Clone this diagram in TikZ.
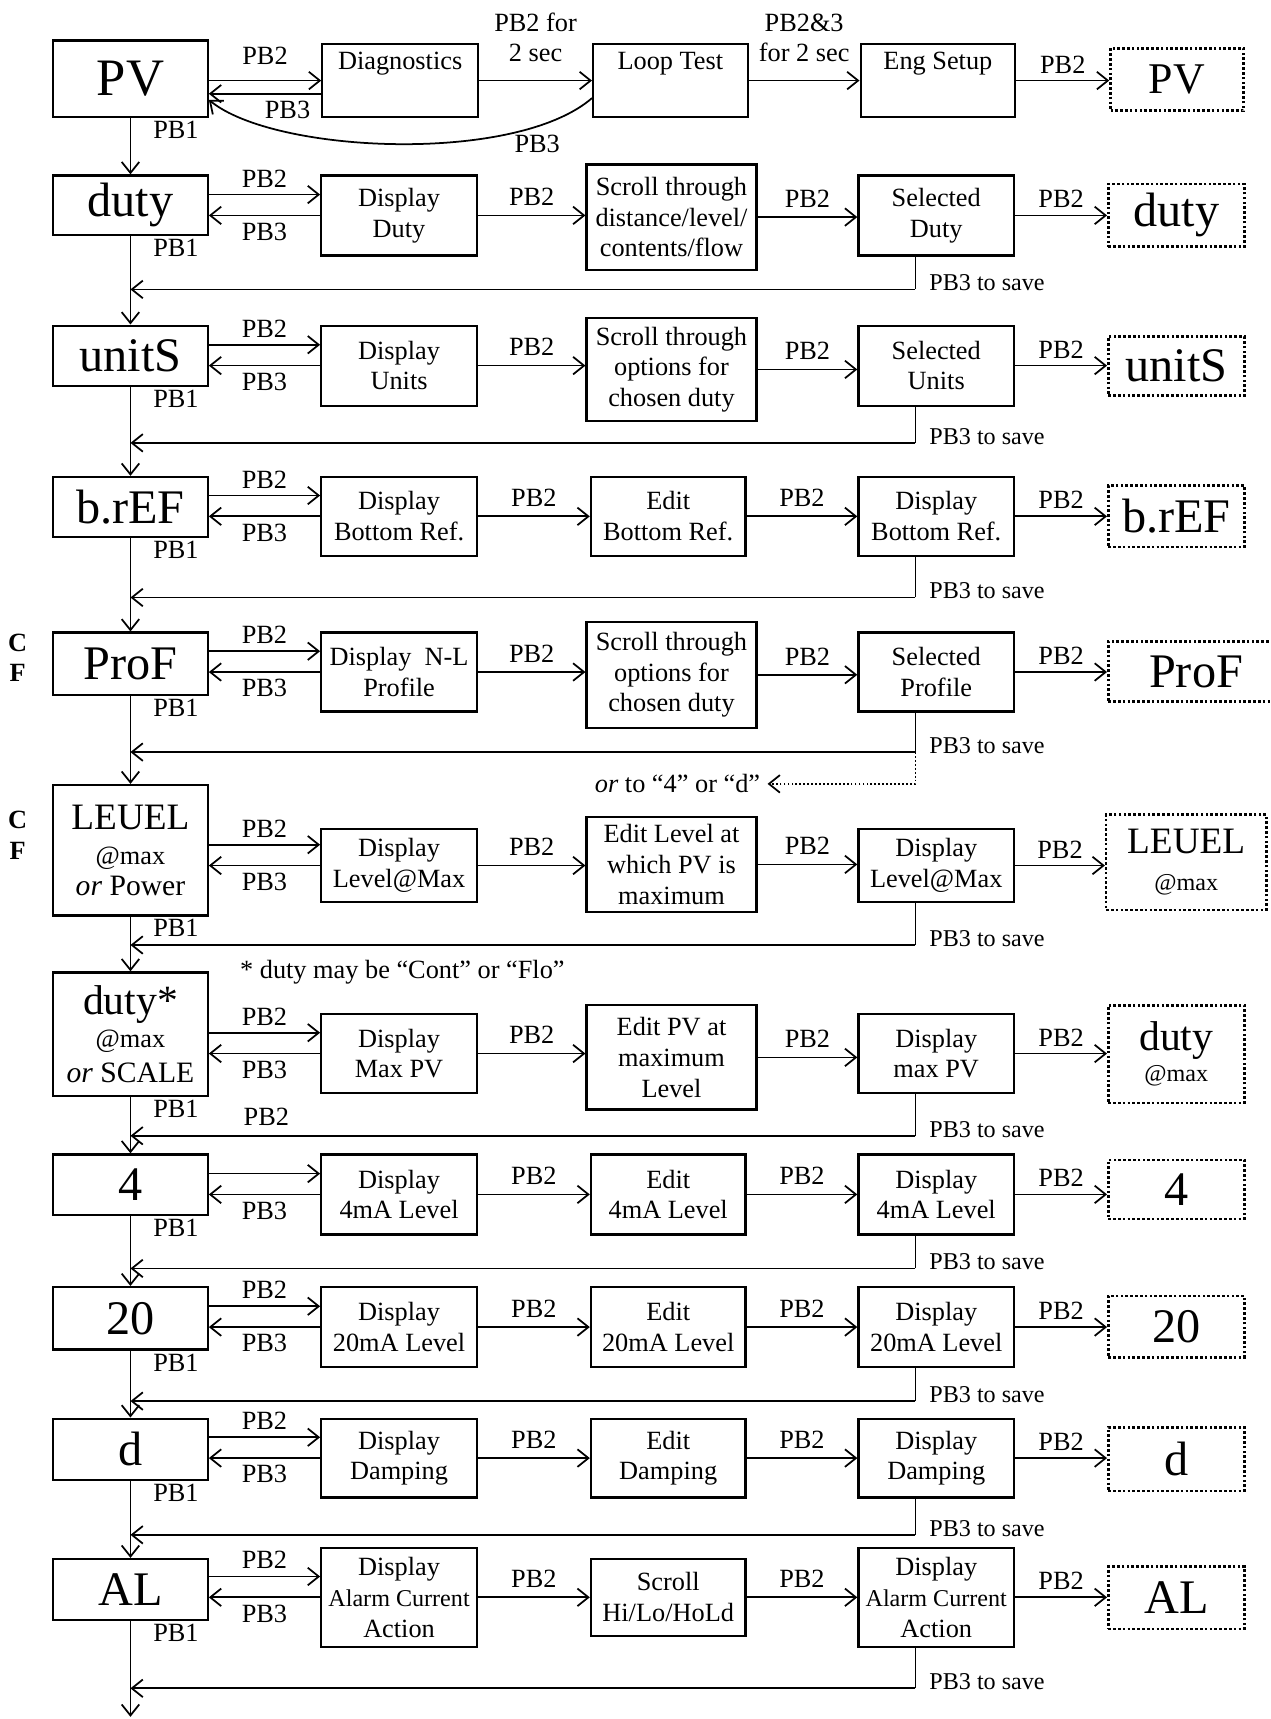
\documentclass[tikz,border=0pt]{standalone}
\usepackage{fontspec}
\setmainfont{Liberation Serif}
\usetikzlibrary{arrows.meta}

\begin{document}
\begin{tikzpicture}[x=0.5pt, y=-0.5pt,
		>={Straight Barb[length=5pt,width=8pt]},   %Pfeilspitzen
		line width=0.8pt,
		font=\fontsize{12}{14}\selectfont,
		box/.style={draw, line width=1pt, align=center, inner sep=1pt},
		dbox/.style={draw, line width=1.2pt, densely dotted, align=center, inner sep=1pt},
		sz/.style 2 args={minimum width=#1*0.5pt, minimum height=#2*0.5pt},
		big/.style={font=\fontsize{22}{24}\selectfont},
		lbl/.style={font=\fontsize{12}{14}\selectfont, inner sep=3pt}]
		\useasboundingbox (0,0) rectangle (1159,1568);
		% Spalte A: Menuepunkte
		\node[box, sz={141}{70}, font=\fontsize{24}{26}\selectfont] (A0) at (119,72) {PV};
		\node[box, sz={141}{54}, big] (A1) at (119,187) {duty};
		\node[box, sz={141}{55}, big] (A2) at (119,324.5) {unitS};
		\node[box, sz={141}{55}, big] (A3) at (119,462.5) {b.rEF};
		\node[box, sz={141}{57}, big] (A4) at (119,605.5) {ProF};
		\node[box, sz={141}{119}] (A5) at (119,775.5) {{\fontsize{17}{19}\selectfont LEUEL}\\[2pt]{\fontsize{12}{16}\selectfont @max}\\{\fontsize{13.5}{15}\selectfont\textit{or} Power}};
		\node[box, sz={141}{113}] (A6) at (119,943.5) {{\fontsize{19}{21}\selectfont duty*}\\[1pt]{\fontsize{12}{16}\selectfont @max}\\[2pt]{\fontsize{13.5}{15}\selectfont\textit{or} SCALE}};
		\node[box, sz={141}{55}, big] (A7) at (119,1080.5) {4};
		\node[box, sz={141}{57}, big] (A8) at (119,1202.5) {20};
		\node[box, sz={141}{56}, big] (A9) at (119,1322) {d};
		\node[box, sz={141}{56}, big] (A10) at (119,1450) {AL};
		% Spalte B
		\node[box, sz={142}{67}] (B0) at (365,73.5) {Diagnostics\\\strut};
		\node[box, sz={142}{73}] (B1) at (364,196.5) {Display\\Duty};
		\node[box, sz={142}{73}] (B2) at (364,333.5) {Display\\Units};
		\node[box, sz={142}{72}] (B3) at (364,471) {Display\\Bottom Ref.};
		\node[box, sz={142}{72}] (B4) at (364,613) {Display~~N-L\\Profile};
		\node[box, sz={142}{67}] (B5) at (364,789.5) {Display\\Level@Max};
		\node[box, sz={142}{72}] (B6) at (364,961) {Display\\Max PV};
		\node[box, sz={142}{73}] (B7) at (364,1089.5) {Display\\4mA Level};
		\node[box, sz={142}{73}] (B8) at (364,1210.5) {Display\\20mA Level};
		\node[box, sz={142}{72}] (B9) at (364,1330) {Display\\Damping};
		\node[box, sz={142}{90}] (B10) at (364,1457) {Display\\{\fontsize{11}{13}\selectfont Alarm Current}\\Action};
		% Spalte C
		\node[box, sz={141}{67}] (C0) at (611.5,73.5) {Loop Test\\\strut};
		\node[box, sz={155}{96}] (C1) at (612.5,198) {Scroll through\\distance/level/\\contents/flow};
		\node[box, sz={155}{94}] (C2) at (612.5,337) {Scroll through\\options for\\chosen duty};
		\node[box, sz={141}{72}] (C3) at (609.5,471) {Edit\\Bottom Ref.};
		\node[box, sz={155}{97}] (C4) at (612.5,615.5) {Scroll through\\options for\\chosen duty};
		\node[box, sz={155}{87}] (C5) at (612.5,788.5) {Edit Level at\\which PV is\\maximum};
		\node[box, sz={155}{95}] (C6) at (612.5,964.5) {Edit PV at\\maximum\\Level};
		\node[box, sz={141}{73}] (C7) at (609.5,1089.5) {Edit\\4mA Level};
		\node[box, sz={141}{73}] (C8) at (609.5,1210.5) {Edit\\20mA Level};
		\node[box, sz={141}{72}] (C9) at (609.5,1330) {Edit\\Damping};
		\node[box, sz={141}{70}] (C10) at (609.5,1457) {Scroll\\Hi/Lo/HoLd};
		% Spalte D
		\node[box, sz={141}{67}] (D0) at (855.5,73.5) {Eng Setup\\\strut};
		\node[box, sz={142}{73}] (D1) at (854,196.5) {Selected\\Duty};
		\node[box, sz={142}{73}] (D2) at (854,333.5) {Selected\\Units};
		\node[box, sz={142}{72}] (D3) at (854,471) {Display\\Bottom Ref.};
		\node[box, sz={142}{72}] (D4) at (854,613) {Selected\\Profile};
		\node[box, sz={142}{67}] (D5) at (854,789.5) {Display\\Level@Max};
		\node[box, sz={142}{72}] (D6) at (854,961) {Display\\max PV};
		\node[box, sz={142}{73}] (D7) at (854,1089.5) {Display\\4mA Level};
		\node[box, sz={142}{73}] (D8) at (854,1210.5) {Display\\20mA Level};
		\node[box, sz={142}{72}] (D9) at (854,1330) {Display\\Damping};
		\node[box, sz={142}{90}] (D10) at (854,1457) {Display\\{\fontsize{11}{13}\selectfont Alarm Current}\\Action};
		% Spalte E: gepunktete Rueckspruenge
		\node[dbox, sz={121}{57}, font=\fontsize{20}{22}\selectfont] (E0) at (1073.5,72.5) {PV};
		\node[dbox, sz={124}{57}, big] (E1) at (1073,196.5) {duty};
		\node[dbox, sz={124}{54}, big] (E2) at (1073,334) {unitS};
		\node[dbox, sz={124}{56}, big] (E3) at (1073,471) {b.rEF};
		\node[dbox, sz={160}{55}, big, text width=62pt] (E4) at (1091,612.5) {ProF};
		\node[dbox, sz={146}{87}] (E5) at (1082,786.5) {{\fontsize{17}{19}\selectfont LEUEL}\\[3pt]{\fontsize{11}{13}\selectfont @max}};
		\node[dbox, sz={124}{89}] (E6) at (1073,961.5) {{\fontsize{19}{21}\selectfont duty}\\{\fontsize{11}{13}\selectfont @max}};
		\node[dbox, sz={124}{54}, big] (E7) at (1073,1085) {4};
		\node[dbox, sz={124}{56}, big] (E8) at (1073,1210) {20};
		\node[dbox, sz={124}{58}, big] (E9) at (1073,1331) {d};
		\node[dbox, sz={124}{57}, big] (E10) at (1073,1457.5) {AL};
		% Beschriftung links
		\node[lbl, font=\fontsize{12}{14}\bfseries, align=center] (cfa) at (16,600) {C\\F};
		\node[lbl, font=\fontsize{12}{14}\bfseries, align=center] (cfb) at (16,762) {C\\F};
		\node[lbl] (stern) at (367,887) {* duty may be “Cont” or “Flo”};
		\node[lbl] (orto) at (618,715) {\textit{or} to “4” or “d”};
		\node[lbl] (pbsieben) at (243,1019) {PB2};
		% Zeile PV
		\coordinate (u0) at ([yshift=-6pt]B0.west);
		\draw[->] (B0.west -| A0.east) -- (B0.west) node[lbl, midway, above=4pt] {PB2};
		\draw[->] (u0) -- (u0 -| A0.east) node[lbl, pos=0.3, below] {PB3};
		\draw[->] ([yshift=-8pt]C0.west) .. controls (470,150) and (250,140) .. ([yshift=-9.5pt]A0.east);
		\node[lbl] (pbkurve) at (490,131) {PB3};
		\draw[->] (B0.east) -- (B0.east -| C0.west) node[lbl, midway, above=5pt, align=center] {PB2 for\\2 sec};
		\draw[->] (C0.east) -- (C0.east -| D0.west) node[lbl, midway, above=5pt, align=center] {PB2\&3\\for 2 sec};
		% Pfeile nach rechts
		\foreach \i in {0,...,10}
			\draw[->] (D\i.east) -- (D\i.east -| E\i.west) node[lbl, midway, above] {PB2};
		\foreach \i in {1,...,10}{
			\coordinate (u\i) at ([yshift=9.5pt]B\i.west);
			\draw[->] (u\i -| A\i.east) -- (u\i);
			\draw[->] (B\i.west) -- (B\i.west -| A\i.east) node[lbl, midway, below] {PB3};
			\draw[->] (B\i.east) -- (B\i.east -| C\i.west) node[lbl, midway, above=1pt] {PB2};
			\draw[->] (C\i.east) -- (C\i.east -| D\i.west) node[lbl, midway, above=1pt] {PB2};
		}
		\foreach \i in {1,...,6,8,9,10}
			\path (u\i -| A\i.east) -- (u\i) node[lbl, midway, above] {PB2};
		% PB1 nach unten
		\foreach \i [evaluate=\i as \j using int(\i+1)] in {0,...,9}
			\draw[->] (A\i.south) -- (A\j.north);
		\foreach \i in {0,...,10}
			\node[lbl, anchor=north west] (pbeins\i) at ([xshift=7pt,yshift=2pt]A\i.south) {PB1};
		\coordinate (ende) at (119,1566);
		\draw[->] (A10.south) -- (ende);
		% Ruecksprung mit PB3 to save
		\foreach \i/\fy in {1/264,2/404,3/545,4/686,5/862,6/1036,7/1157,8/1278,9/1400,10/1540}{
			\coordinate (F\i) at (835,\fy);
			\draw (D\i.south -| F\i) -- (F\i) node[lbl, font=\fontsize{11}{13}\selectfont, right=3pt, yshift=3pt] {PB3 to save};
			\draw[->] (F\i) -- (F\i -| A\i.south);
		}
		\draw[densely dotted, ->] (F4) |- (orto.east);
\end{tikzpicture}
\end{document}
